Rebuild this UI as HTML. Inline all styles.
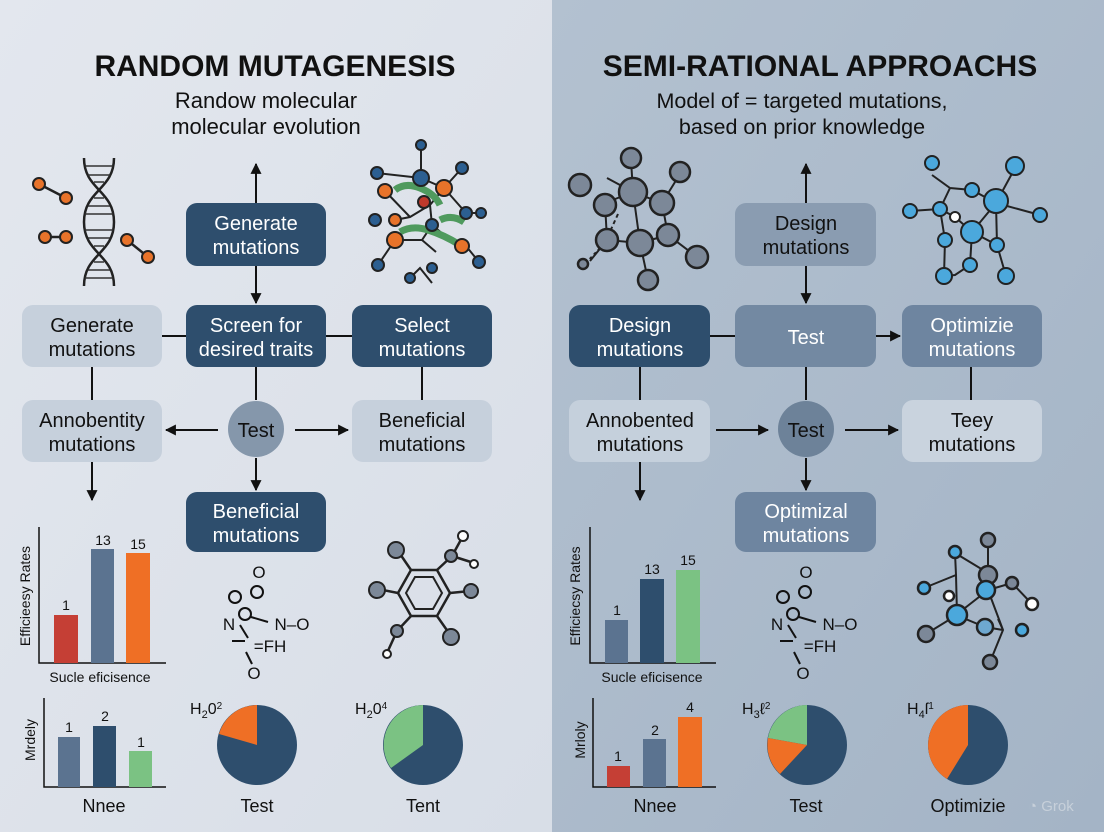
<!DOCTYPE html>
<html><head><meta charset="utf-8"><style>
html,body{margin:0;padding:0;width:1104px;height:832px;overflow:hidden}
svg{display:block}
text{font-family:"Liberation Sans",sans-serif}
</style></head><body>
<svg width="1104" height="832" viewBox="0 0 1104 832" xmlns="http://www.w3.org/2000/svg">
<defs>
<linearGradient id="gl" x1="0" y1="0" x2="1" y2="1"><stop offset="0" stop-color="#e3e7ee"/><stop offset="1" stop-color="#d8dee7"/></linearGradient>
<linearGradient id="gr" x1="0" y1="0" x2="1" y2="1"><stop offset="0" stop-color="#b3c1d0"/><stop offset="1" stop-color="#a4b4c6"/></linearGradient>
<marker id="ar" viewBox="0 0 10 10" refX="9" refY="5" markerWidth="11" markerHeight="11" markerUnits="userSpaceOnUse" orient="auto"><path d="M0,0L10,5L0,10z" fill="#111"/></marker>
</defs>
<rect x="0" y="0" width="552" height="832" fill="url(#gl)"/>
<rect x="552" y="0" width="552" height="832" fill="url(#gr)"/>

<!-- titles -->
<g text-anchor="middle" fill="#111">
<text x="275" y="76" font-size="30" font-weight="bold">RANDOM MUTAGENESIS</text>
<text x="266" y="108" font-size="22">Randow molecular</text>
<text x="266" y="134" font-size="22">molecular evolution</text>
<text x="820" y="76" font-size="30" font-weight="bold">SEMI-RATIONAL APPROACHS</text>
<text x="802" y="108" font-size="21.5">Model of = targeted mutations,</text>
<text x="802" y="134" font-size="21.5">based on prior knowledge</text>
</g>

<!-- connectors left -->
<g stroke="#111" stroke-width="2" fill="none">
<line x1="256" y1="203" x2="256" y2="164" marker-end="url(#ar)"/>
<line x1="256" y1="266" x2="256" y2="303" marker-end="url(#ar)"/>
<line x1="162" y1="336" x2="186" y2="336"/>
<line x1="326" y1="336" x2="352" y2="336"/>
<line x1="92" y1="367" x2="92" y2="400"/>
<line x1="422" y1="367" x2="422" y2="400"/>
<line x1="256" y1="367" x2="256" y2="400"/>
<line x1="218" y1="430" x2="166" y2="430" marker-end="url(#ar)"/>
<line x1="295" y1="430" x2="348" y2="430" marker-end="url(#ar)"/>
<line x1="256" y1="458" x2="256" y2="490" marker-end="url(#ar)"/>
<line x1="92" y1="462" x2="92" y2="500" marker-end="url(#ar)"/>
<!-- right -->
<line x1="806" y1="203" x2="806" y2="164" marker-end="url(#ar)"/>
<line x1="806" y1="266" x2="806" y2="303" marker-end="url(#ar)"/>
<line x1="710" y1="336" x2="735" y2="336"/>
<line x1="876" y1="336" x2="900" y2="336" marker-end="url(#ar)"/>
<line x1="640" y1="367" x2="640" y2="400"/>
<line x1="971" y1="367" x2="971" y2="400"/>
<line x1="806" y1="367" x2="806" y2="400"/>
<line x1="716" y1="430" x2="768" y2="430" marker-end="url(#ar)"/>
<line x1="845" y1="430" x2="898" y2="430" marker-end="url(#ar)"/>
<line x1="806" y1="458" x2="806" y2="490" marker-end="url(#ar)"/>
<line x1="640" y1="462" x2="640" y2="500" marker-end="url(#ar)"/>
</g>

<!-- boxes left -->
<g font-size="20" text-anchor="middle">
<rect x="186" y="203" width="140" height="63" rx="11" fill="#2e4e6d"/>
<text x="256" y="230" fill="#fff">Generate</text><text x="256" y="254" fill="#fff">mutations</text>
<rect x="186" y="305" width="140" height="62" rx="11" fill="#2e4e6d"/>
<text x="256" y="332" fill="#fff">Screen for</text><text x="256" y="356" fill="#fff">desired traits</text>
<rect x="22" y="305" width="140" height="62" rx="11" fill="#c6d0dc"/>
<text x="92" y="332" fill="#111">Generate</text><text x="92" y="356" fill="#111">mutations</text>
<rect x="352" y="305" width="140" height="62" rx="11" fill="#2e4e6d"/>
<text x="422" y="332" fill="#fff">Select</text><text x="422" y="356" fill="#fff">mutations</text>
<rect x="22" y="400" width="140" height="62" rx="11" fill="#c6d0dc"/>
<text x="92" y="427" fill="#111">Annobentity</text><text x="92" y="451" fill="#111">mutations</text>
<rect x="352" y="400" width="140" height="62" rx="11" fill="#c6d0dc"/>
<text x="422" y="427" fill="#111">Beneficial</text><text x="422" y="451" fill="#111">mutations</text>
<circle cx="256" cy="429" r="28" fill="#8597ab"/>
<text x="256" y="437" fill="#111">Test</text>
<rect x="186" y="492" width="140" height="60" rx="11" fill="#2e4e6d"/>
<text x="256" y="518" fill="#fff">Beneficial</text><text x="256" y="542" fill="#fff">mutations</text>

<!-- boxes right -->
<rect x="735" y="203" width="141" height="63" rx="11" fill="#8a9cb1"/>
<text x="806" y="230" fill="#111">Design</text><text x="806" y="254" fill="#111">mutations</text>
<rect x="569" y="305" width="141" height="62" rx="11" fill="#2e4e6d"/>
<text x="640" y="332" fill="#fff">Design</text><text x="640" y="356" fill="#fff">mutations</text>
<rect x="735" y="305" width="141" height="62" rx="11" fill="#7389a2"/>
<text x="806" y="344" fill="#fff">Test</text>
<rect x="902" y="305" width="140" height="62" rx="11" fill="#6e85a0"/>
<text x="972" y="332" fill="#fff">Optimizie</text><text x="972" y="356" fill="#fff">mutations</text>
<rect x="569" y="400" width="141" height="62" rx="11" fill="#c5d0dc"/>
<text x="640" y="427" fill="#111">Annobented</text><text x="640" y="451" fill="#111">mutations</text>
<rect x="902" y="400" width="140" height="62" rx="11" fill="#c9d3de"/>
<text x="972" y="427" fill="#111">Teey</text><text x="972" y="451" fill="#111">mutations</text>
<circle cx="806" cy="429" r="28" fill="#6d8299"/>
<text x="806" y="437" fill="#111">Test</text>
<rect x="735" y="492" width="141" height="60" rx="11" fill="#6e85a0"/>
<text x="806" y="518" fill="#fff">Optimizal</text><text x="806" y="542" fill="#fff">mutations</text>
</g>

<!-- DNA -->
<g stroke="#222" stroke-width="2.5" fill="none">
<path d="M84,158 C84,190 114,190 114,222 C114,254 84,254 84,286"/>
<path d="M114,158 C114,190 84,190 84,222 C84,254 114,254 114,286"/>
<g stroke-width="1.5" stroke="#333"><line x1="85" y1="166" x2="113" y2="166"/><line x1="88" y1="175" x2="110" y2="175"/><line x1="94" y1="182" x2="104" y2="182"/><line x1="94" y1="198" x2="104" y2="198"/><line x1="88" y1="206" x2="110" y2="206"/><line x1="85" y1="214" x2="113" y2="214"/><line x1="85" y1="230" x2="113" y2="230"/><line x1="88" y1="238" x2="110" y2="238"/><line x1="94" y1="246" x2="104" y2="246"/><line x1="94" y1="262" x2="104" y2="262"/><line x1="88" y1="270" x2="110" y2="270"/><line x1="85" y1="278" x2="113" y2="278"/></g>
<line x1="39" y1="184" x2="66" y2="198"/><line x1="45" y1="237" x2="66" y2="237"/><line x1="127" y1="240" x2="148" y2="257"/>
</g>
<g fill="#e8732a" stroke="#222" stroke-width="2"><circle cx="39" cy="184" r="6"/><circle cx="66" cy="198" r="6"/><circle cx="45" cy="237" r="6"/><circle cx="66" cy="237" r="6"/><circle cx="127" cy="240" r="6"/><circle cx="148" cy="257" r="6"/></g>

<!-- left network molecule -->
<g stroke="#222" stroke-width="2" fill="none">
<path d="M421,145 L421,178 L377,173 M421,178 L444,188 L462,168 M444,188 L466,213 L481,213 M444,188 L430,205 L410,217 L395,220 M430,205 L432,225 L422,240 L410,240 M432,225 L455,244 L466,246 L479,262 M422,240 L395,240 L378,265 M410,217 L385,191 M422,240 L436,252 M410,278 L420,268 L432,283"/>
</g>
<g stroke="#222" stroke-width="2"><path d="M395,190 Q405,182 420,188 T440,205" stroke="#4f9a5e" stroke-width="7" fill="none"/><path d="M400,232 Q412,225 428,230 T460,245" stroke="#4f9a5e" stroke-width="7" fill="none"/><path d="M440,220 Q452,214 464,222" stroke="#4f9a5e" stroke-width="7" fill="none"/></g>
<g stroke="#222" stroke-width="2">
<circle cx="421" cy="145" r="5" fill="#2c5f91"/><circle cx="377" cy="173" r="6" fill="#2c5f91"/><circle cx="462" cy="168" r="6" fill="#2c5f91"/><circle cx="421" cy="178" r="8" fill="#2c5f91"/>
<circle cx="444" cy="188" r="8" fill="#e8732a"/><circle cx="385" cy="191" r="7" fill="#e8732a"/><circle cx="466" cy="213" r="6" fill="#2c5f91"/><circle cx="481" cy="213" r="5" fill="#2c5f91"/>
<circle cx="424" cy="202" r="6" fill="#c0392b"/><circle cx="395" cy="220" r="6" fill="#e8732a"/><circle cx="375" cy="220" r="6" fill="#2c5f91"/>
<circle cx="432" cy="225" r="6" fill="#2c5f91"/><circle cx="395" cy="240" r="8" fill="#e8732a"/><circle cx="462" cy="246" r="7" fill="#e8732a"/><circle cx="479" cy="262" r="6" fill="#2c5f91"/>
<circle cx="378" cy="265" r="6" fill="#2c5f91"/><circle cx="410" cy="278" r="5" fill="#2c5f91"/><circle cx="432" cy="268" r="5" fill="#2c5f91"/>
</g>

<!-- right grey molecule -->
<g stroke="#222" stroke-width="2" fill="none">
<path d="M631,160 L633,192 L607,178 M633,192 L662,203 L680,174 M633,192 L605,203 L607,240 L590,261 M662,203 L668,235 L697,257 M633,192 L640,243 L648,280 M605,203 L607,240 L640,243 L668,235"/>
<path d="M618,214 L608,236" stroke-dasharray="4 3"/><path d="M600,248 L585,264" stroke-dasharray="3 3"/>
</g>
<g fill="#7c8898" stroke="#222" stroke-width="2.5"><circle cx="631" cy="158" r="10"/><circle cx="580" cy="185" r="11"/><circle cx="680" cy="172" r="10"/><circle cx="633" cy="192" r="14"/><circle cx="662" cy="203" r="12"/><circle cx="605" cy="205" r="11"/><circle cx="607" cy="240" r="11"/><circle cx="640" cy="243" r="13"/><circle cx="668" cy="235" r="11"/><circle cx="697" cy="257" r="11"/><circle cx="648" cy="280" r="10"/><circle cx="583" cy="264" r="5"/></g>

<!-- right blue molecule -->
<g stroke="#222" stroke-width="2" fill="none">
<path d="M932,175 L950,188 L972,190 L996,203 L1015,168 M996,203 L1040,215 M940,209 L910,211 M940,209 L950,188 M940,209 L955,217 L972,232 L996,203 M972,232 L997,245 L1006,276 M972,232 L970,265 L955,275 L944,276 M945,240 L944,276 M940,209 L945,240 M996,203 L997,245"/>
</g>
<g fill="#4ba8dc" stroke="#222" stroke-width="2"><circle cx="932" cy="163" r="7"/><circle cx="1015" cy="166" r="9"/><circle cx="972" cy="190" r="7"/><circle cx="996" cy="201" r="12"/><circle cx="910" cy="211" r="7"/><circle cx="940" cy="209" r="7"/><circle cx="1040" cy="215" r="7"/><circle cx="972" cy="232" r="11"/><circle cx="945" cy="240" r="7"/><circle cx="997" cy="245" r="7"/><circle cx="970" cy="265" r="7"/><circle cx="944" cy="276" r="8"/><circle cx="1006" cy="276" r="8"/><circle cx="955" cy="217" r="5" fill="#fff"/></g>

<!-- left charts -->
<g stroke="#111" stroke-width="1.5" fill="none"><path d="M39,527 L39,663 L166,663"/><path d="M44,698 L44,787 L166,787"/><path d="M590,527 L590,663 L716,663"/><path d="M593,698 L593,787 L716,787"/></g>
<rect x="54" y="615" width="24" height="48" fill="#c53f35"/>
<rect x="91" y="549" width="23" height="114" fill="#5b7390"/>
<rect x="126" y="553" width="24" height="110" fill="#ef6f25"/>
<rect x="58" y="737" width="22" height="50" fill="#5b7390"/>
<rect x="93" y="726" width="23" height="61" fill="#2e4e6d"/>
<rect x="129" y="751" width="23" height="36" fill="#7bc283"/>
<g font-size="14" fill="#111" text-anchor="middle">
<text x="66" y="610">1</text><text x="103" y="545">13</text><text x="138" y="549">15</text>
<text x="69" y="732">1</text><text x="105" y="721">2</text><text x="141" y="747">1</text>
<text x="100" y="682">Sucle eficisence</text>
<text x="104" y="812" font-size="18">Nnee</text>
<text transform="translate(30,596) rotate(-90)">Efficieesy Rates</text>
<text transform="translate(35,740) rotate(-90)">Mrdely</text>
</g>

<!-- right charts -->
<rect x="605" y="620" width="23" height="43" fill="#5b7390"/>
<rect x="640" y="579" width="24" height="84" fill="#2e4e6d"/>
<rect x="676" y="570" width="24" height="93" fill="#7bc283"/>
<rect x="607" y="766" width="23" height="21" fill="#c53f35"/>
<rect x="643" y="739" width="23" height="48" fill="#5b7390"/>
<rect x="678" y="717" width="24" height="70" fill="#ef6f25"/>
<g font-size="14" fill="#111" text-anchor="middle">
<text x="617" y="615">1</text><text x="652" y="574">13</text><text x="688" y="565">15</text>
<text x="618" y="761">1</text><text x="655" y="735">2</text><text x="690" y="712">4</text>
<text x="652" y="682">Sucle eficisence</text>
<text x="655" y="812" font-size="18">Nnee</text>
<text transform="translate(580,596) rotate(-90)">Efficiecsy Rates</text>
<text transform="translate(585,740) rotate(-90)">Mrloly</text>
</g>

<!-- chem formulas -->
<g font-size="17" fill="#111" stroke="none" text-anchor="middle">
<text x="259" y="578">O</text><text x="292" y="630">N–O</text><text x="229" y="630">N</text><text x="270" y="652">=FH</text><text x="254" y="679">O</text>
<text x="806" y="578">O</text><text x="840" y="630">N–O</text><text x="777" y="630">N</text><text x="820" y="652">=FH</text><text x="803" y="679">O</text>
</g>
<g stroke="#111" stroke-width="2" fill="none">
<circle cx="235" cy="597" r="6"/><circle cx="257" cy="592" r="6"/><circle cx="245" cy="614" r="6"/><line x1="251" y1="617" x2="268" y2="622"/><line x1="240" y1="625" x2="248" y2="638"/><line x1="232" y1="641" x2="245" y2="641"/><line x1="246" y1="652" x2="252" y2="664"/>
<circle cx="783" cy="597" r="6"/><circle cx="805" cy="592" r="6"/><circle cx="793" cy="614" r="6"/><line x1="799" y1="617" x2="816" y2="622"/><line x1="788" y1="625" x2="796" y2="638"/><line x1="780" y1="641" x2="793" y2="641"/><line x1="794" y1="652" x2="800" y2="664"/>
</g>

<!-- benzene -->
<g stroke="#222" stroke-width="2.5" fill="none">
<polygon points="411,570 437,570 450,593 437,616 411,616 398,593"/>
<polygon points="415,577 433,577 442,593 433,609 415,609 406,593" stroke-width="2"/>
<line x1="411" y1="570" x2="398" y2="551"/><line x1="437" y1="570" x2="452" y2="556"/><line x1="452" y1="556" x2="463" y2="536"/><line x1="452" y1="556" x2="474" y2="563"/><line x1="398" y1="593" x2="378" y2="589"/><line x1="450" y1="593" x2="470" y2="591"/><line x1="411" y1="616" x2="397" y2="631"/><line x1="397" y1="631" x2="387" y2="653"/><line x1="437" y1="616" x2="451" y2="636"/>
</g>
<g stroke="#222" stroke-width="2" fill="#7c8898"><circle cx="396" cy="550" r="8"/><circle cx="451" cy="556" r="6"/><circle cx="377" cy="590" r="8"/><circle cx="471" cy="591" r="7"/><circle cx="397" cy="631" r="6"/><circle cx="451" cy="637" r="8"/><circle cx="463" cy="536" r="5" fill="#fff"/><circle cx="474" cy="564" r="4" fill="#fff"/><circle cx="387" cy="654" r="4" fill="#fff"/></g>

<!-- right bottom molecule -->
<g stroke="#222" stroke-width="2" fill="none">
<path d="M988,540 L988,573 L955,553 L956,575 L924,588 M988,573 L988,590 L1012,583 L1032,604 M956,575 L957,615 L926,634 M988,590 L956,615 L985,627 L1003,630 M988,590 L1003,630 L990,662 M1003,630 L998,619"/>
</g>
<g stroke="#222" stroke-width="2.5"><circle cx="988" cy="540" r="7" fill="#7c8898"/><circle cx="955" cy="552" r="6" fill="#4ba8dc"/><circle cx="924" cy="588" r="6" fill="#4ba8dc"/><circle cx="988" cy="575" r="9" fill="#7c8898"/><circle cx="986" cy="590" r="9" fill="#4ba8dc"/><circle cx="1012" cy="583" r="6" fill="#7c8898"/><circle cx="1032" cy="604" r="6" fill="#fff"/><circle cx="949" cy="596" r="5" fill="#fff"/><circle cx="957" cy="615" r="10" fill="#4ba8dc"/><circle cx="985" cy="627" r="8" fill="#6ea8d0"/><circle cx="926" cy="634" r="8" fill="#7c8898"/><circle cx="1022" cy="630" r="6" fill="#4ba8dc"/><circle cx="990" cy="662" r="7" fill="#7c8898"/></g>

<!-- pies -->
<circle cx="257" cy="745" r="40" fill="#2e4e6d"/>
<path d="M257,745 L257,705 A40,40 0 0 0 219,734 Z" fill="#ef6f25"/>
<circle cx="423" cy="745" r="40" fill="#2e4e6d"/>
<path d="M423,745 L423,705 A40,40 0 0 0 391,768 Z" fill="#7bc283"/>
<circle cx="807" cy="745" r="40" fill="#2e4e6d"/>
<path d="M807,745 L807,705 A40,40 0 0 0 768,738 Z" fill="#7bc283"/>
<path d="M807,745 L768,738 A40,40 0 0 0 780,774 Z" fill="#ef6f25"/>
<circle cx="968" cy="745" r="40" fill="#2e4e6d"/>
<path d="M968,745 L968,705 A40,40 0 0 0 947,779 Z" fill="#ef6f25"/>
<g fill="#111" text-anchor="middle" font-size="18">
<text x="257" y="812">Test</text><text x="423" y="812">Tent</text><text x="806" y="812">Test</text><text x="968" y="812">Optimizie</text>
</g>
<g fill="#111" font-size="16">
<text x="190" y="714">H<tspan font-size="11" dy="4">2</tspan><tspan dy="-4">0</tspan><tspan font-size="10" dy="-5">2</tspan></text>
<text x="355" y="714">H<tspan font-size="11" dy="4">2</tspan><tspan dy="-4">0</tspan><tspan font-size="10" dy="-5">4</tspan></text>
<text x="742" y="714">H<tspan font-size="11" dy="4">3</tspan><tspan dy="-4">ℓ</tspan><tspan font-size="10" dy="-5">2</tspan></text>
<text x="907" y="714">H<tspan font-size="11" dy="4">4</tspan><tspan dy="-4">ſ</tspan><tspan font-size="10" dy="-5">1</tspan></text>
</g>
<text x="1028" y="811" font-size="15" fill="#c7d0da">◔ Grok</text>
</svg>
</body></html>
